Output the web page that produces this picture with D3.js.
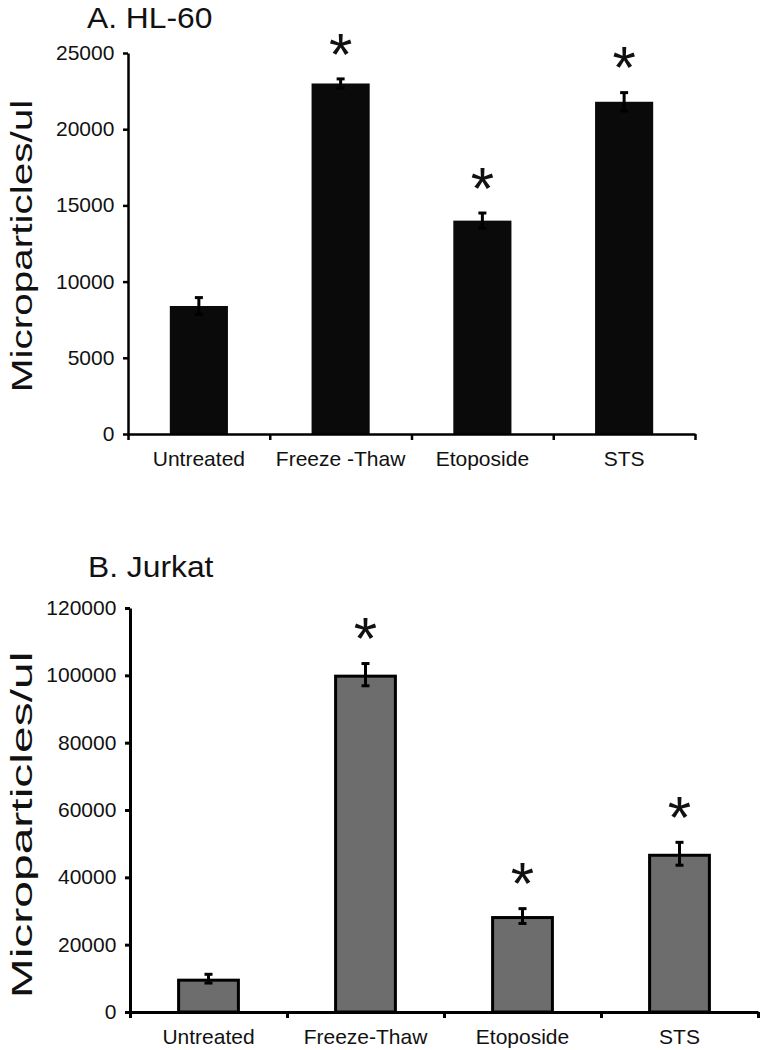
<!DOCTYPE html>
<html><head><meta charset="utf-8">
<script src="https://cdn.jsdelivr.net/npm/d3@7"></script>
<style>
body{margin:0;background:#fff}
svg{display:block}
text{font-family:"Liberation Sans",Arial,sans-serif;fill:#111}
</style>
</head><body><svg width="761" height="1050"></svg>
<script>
// Panel A: HL-60
const categoriesA = ["Untreated", "Freeze -Thaw", "Etoposide", "STS"];
const valuesA = [8400, 23000, 14000, 21800];
const errorsA = [550, 300, 500, 600];
const significantA = [false, true, true, true];
const ticksA = [0, 5000, 10000, 15000, 20000, 25000];

// Panel B: Jurkat
const categoriesB = ["Untreated", "Freeze-Thaw", "Etoposide", "STS"];
const valuesB = [9900, 100200, 28500, 47000];
const errorsB = [1300, 3300, 2200, 3400];
const significantB = [false, true, true, true];
const ticksB = [0, 20000, 40000, 60000, 80000, 100000, 120000];

const svg = d3.select("svg");

function panel(cfg) {
  const g = svg.append("g");
  const n = cfg.cats.length;
  const x = d3.scaleBand().domain(cfg.cats).range([cfg.x0, cfg.x1])
    .paddingInner(cfg.pad).paddingOuter(cfg.pad / 2);
  const y = d3.scaleLinear().domain([0, d3.max(cfg.ticks)]).range([cfg.yb, cfg.yt]);

  // bars
  g.selectAll("rect.bar").data(cfg.vals).join("rect")
    .attr("x", (d, i) => x(cfg.cats[i]) + (cfg.sw / 2))
    .attr("y", d => y(d) + cfg.sw / 2)
    .attr("width", x.bandwidth() - cfg.sw)
    .attr("height", d => y(0) - y(d) - cfg.sw / 2)
    .attr("fill", cfg.fill)
    .attr("stroke", cfg.stroke)
    .attr("stroke-width", cfg.sw);

  // error bars
  const eg = g.selectAll("g.err").data(cfg.vals).join("g");
  eg.append("line")
    .attr("x1", (d, i) => x(cfg.cats[i]) + x.bandwidth() / 2)
    .attr("x2", (d, i) => x(cfg.cats[i]) + x.bandwidth() / 2)
    .attr("y1", (d, i) => y(d - cfg.errs[i]))
    .attr("y2", (d, i) => y(d + cfg.errs[i]))
    .attr("stroke", "#000").attr("stroke-width", 3);
  [1, -1].forEach(s => {
    eg.append("line")
      .attr("x1", (d, i) => x(cfg.cats[i]) + x.bandwidth() / 2 - 4)
      .attr("x2", (d, i) => x(cfg.cats[i]) + x.bandwidth() / 2 + 4)
      .attr("y1", (d, i) => y(d + s * cfg.errs[i]))
      .attr("y2", (d, i) => y(d + s * cfg.errs[i]))
      .attr("stroke", "#000").attr("stroke-width", 3);
  });

  // asterisks
  const fs = 60;
  g.selectAll("text.star").data(cfg.vals.map((v, i) => ({v, i})).filter(d => cfg.sig[d.i]))
    .join("text")
    .attr("text-anchor", "middle")
    .attr("font-size", fs)
    .attr("x", d => x(cfg.cats[d.i]) + x.bandwidth() / 2)
    .attr("y", d => y(d.v + cfg.errs[d.i]) - 35 + 0.51 * fs)
    .attr("fill", "#000")
    .text("*");

  // y axis
  const ya = g.append("g").attr("transform", `translate(${cfg.x0},0)`)
    .call(d3.axisLeft(y).tickValues(cfg.ticks).tickFormat(d3.format("d"))
      .tickSize(5).tickSizeOuter(0).tickPadding(8));
  ya.select(".domain").attr("stroke", "#000").attr("stroke-width", cfg.aw);
  ya.selectAll(".tick line").attr("stroke", "#000").attr("stroke-width", cfg.aw);
  ya.selectAll(".tick text").attr("font-size", 20).attr("fill", "#111")
    .attr("font-family", '"Liberation Sans",Arial,sans-serif')
    .attr("transform", `scale(${cfg.tsx},1)`);

  // x axis: boundary ticks
  const xb = d3.scaleLinear().domain([0, n]).range([cfg.x0, cfg.x1]);
  const xa = g.append("g").attr("transform", `translate(0,${cfg.yb})`)
    .call(d3.axisBottom(xb).ticks(n).tickFormat("").tickSize(6).tickSizeOuter(0));
  xa.select(".domain").attr("stroke", "#000").attr("stroke-width", cfg.aw);
  xa.selectAll(".tick line").attr("stroke", "#000").attr("stroke-width", cfg.aw);

  // category labels
  const xl = g.append("g").attr("transform", `translate(0,${cfg.yb})`)
    .call(d3.axisBottom(x).tickSize(0).tickPadding(cfg.lp));
  xl.select(".domain").remove();
  xl.selectAll(".tick text").attr("font-size", 21).attr("fill", "#111")
    .attr("font-family", '"Liberation Sans",Arial,sans-serif');

  // title
  g.append("text")
    .attr("transform", `translate(${cfg.tx},${cfg.ty}) scale(1.06,1)`)
    .attr("font-size", 30).attr("fill", "#111")
    .text(cfg.title);

  // y label
  g.append("text")
    .attr("transform", `translate(${cfg.lx},${cfg.ly}) rotate(-90) scale(${cfg.lsx},1)`)
    .attr("text-anchor", "middle")
    .attr("font-size", 30).attr("fill", "#111")
    .text("Microparticles/ul");
}

panel({cats: categoriesA, vals: valuesA, errs: errorsA, sig: significantA, ticks: ticksA,
  x0: 128, x1: 695, yt: 53, yb: 434, pad: 0.59, fill: "#0a0a0a", stroke: "none", sw: 0, aw: 2.5,
  tsx: 1.05, lp: 17, title: "A. HL-60", tx: 87, ty: 28, lx: 32, ly: 246, lsx: 1.35});

panel({cats: categoriesB, vals: valuesB, errs: errorsB, sig: significantB, ticks: ticksB,
  x0: 130, x1: 758, yt: 608, yb: 1012, pad: 0.6, fill: "#6d6d6d", stroke: "#000", sw: 3, aw: 3,
  tsx: 1.05, lp: 17, title: "B. Jurkat", tx: 88, ty: 577, lx: 32, ly: 825, lsx: 1.6});
</script>
</body></html>
